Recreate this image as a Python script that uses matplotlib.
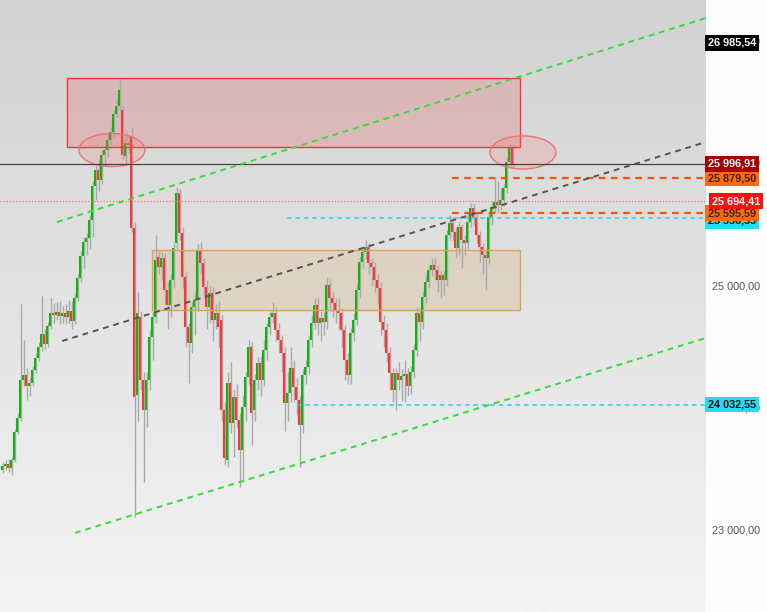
import numpy as np
import matplotlib
matplotlib.use('Agg')
import matplotlib.pyplot as plt
from matplotlib.patches import Rectangle, Ellipse
import matplotlib.transforms as mtransforms

# candles (price)
opens = [23500, 23530, 23545, 23515, 23580, 23810, 23925, 24235, 24275, 24185,
         24210, 24315, 24415, 24500, 24610, 24525, 24675, 24780, 24765, 24790,
         24755, 24780, 24745, 24795, 24715, 24905, 25065, 25245, 25360, 25390,
         25540, 25815, 25950, 25865, 26070, 26110, 26195, 26260, 26405, 26470,
         26440, 26060, 26170, 26215, 25475, 24110, 24750, 24235, 23990, 24235,
         24585, 24745, 25240, 25155, 25230, 24970, 24845, 25050, 25350, 25760,
         25435, 25075, 24665, 24535, 24830, 24885, 25295, 25190, 24990, 24830,
         24945, 24725, 24780, 24720, 23990, 23580, 24210, 23880, 24095, 23905,
         23660, 24010, 24255, 24500, 23990, 24235, 24370, 24235, 24480, 24665,
         24745, 24780, 24640, 24560, 24455, 24045, 24125, 24330, 24175, 24070,
         23865, 24275, 24340, 24560, 24700, 24845, 24700, 24740, 24705, 25010,
         24905, 24860, 24805, 24780, 24640, 24395, 24275, 24615, 24725, 24970,
         25195, 25280, 25320, 25190, 25155, 25050, 24985, 24705, 24640, 24455,
         24290, 24150, 24290, 24235, 24265, 24280, 24185, 24300, 24480, 24780,
         24705, 24910, 25035, 25130, 25170, 25130, 25050, 25090, 25050, 25420,
         25515, 25440, 25310, 25480, 25375, 25350, 25525, 25635, 25565, 25415,
         25320, 25255, 25230, 25565, 25645, 25685, 25660, 25700, 25800, 26015,
         26130]
highs = [23560, 23580, 23590, 23600, 23830, 23960, 24850, 24560, 24330, 24250,
         24350, 24450, 24540, 24920, 24650, 24710, 24900, 24860, 24870, 24880,
         24840, 24850, 24890, 24880, 24940, 25100, 25290, 25400, 25430, 25580,
         25860, 25990, 26030, 26110, 26150, 26240, 26300, 26440, 26520, 26700,
         26470, 26260, 26230, 26290, 25520, 24950, 24800, 24300, 24300, 24640,
         24800, 25415, 25290, 25280, 25270, 25030, 25100, 25350, 25810, 25790,
         25480, 25120, 24700, 24870, 24950, 25340, 25360, 25230, 25050, 25000,
         24990, 24850, 24880, 24760, 24050, 24300, 24380, 24150, 24200, 23960,
         24100, 24300, 24560, 24540, 24280, 24420, 24430, 24560, 24700, 24800,
         24870, 24830, 24700, 24600, 24500, 24300, 24500, 24400, 24250, 24100,
         24320, 24400, 24600, 24760, 24900, 24900, 24800, 24790, 25075, 25060,
         24960, 24900, 24900, 24820, 24680, 24450, 24660, 24780, 25020, 25240,
         25330, 25380, 25350, 25230, 25200, 25100, 25030, 24760, 24700, 24500,
         24330, 24330, 24380, 24320, 24400, 24330, 24350, 24530, 24830, 24820,
         24950, 25090, 25170, 25230, 25230, 25170, 25120, 25120, 25460, 25580,
         25560, 25480, 25520, 25510, 25420, 25600, 25680, 25670, 25600, 25450,
         25350, 25300, 25600, 25690, 25880, 25860, 25800, 25830, 26050, 26160,
         26160]
lows = [23470, 23500, 23480, 23455, 23560, 23790, 23900, 24180, 24070, 24100,
        24180, 24290, 24390, 24470, 24480, 24500, 24650, 24700, 24720, 24690,
        24700, 24690, 24700, 24650, 24690, 24880, 25030, 25150, 25250, 25300,
        25400, 25700, 25780, 25830, 25980, 26050, 26150, 26220, 26380, 26440,
        26040, 25990, 26090, 25440, 23115, 23900, 24150, 23400, 23850, 24150,
        24400, 24700, 25100, 25050, 24850, 24650, 24750, 24980, 25300, 25380,
        24980, 24500, 24210, 24450, 24600, 24800, 25100, 24900, 24650, 24700,
        24550, 24650, 24500, 23900, 23540, 23520, 23800, 23600, 23850, 23360,
        23400, 23900, 24200, 23700, 23900, 24150, 24100, 24180, 24400, 24600,
        24700, 24550, 24450, 24300, 23820, 23900, 24050, 24050, 23950, 23525,
        23800, 24200, 24280, 24500, 24650, 24600, 24550, 24600, 24650, 24800,
        24750, 24700, 24650, 24500, 24233, 24200, 24200, 24550, 24680, 24900,
        25150, 25220, 25100, 25000, 24950, 24850, 24600, 24500, 24380, 24150,
        24050, 23990, 24150, 24060, 24050, 24100, 24120, 24250, 24430, 24550,
        24650, 24850, 24980, 25080, 25050, 24950, 24900, 24930, 25000, 25380,
        25380, 25230, 25250, 25150, 25250, 25300, 25480, 25500, 25350, 25200,
        25100, 24970, 25180, 25500, 25600, 25600, 25620, 25650, 25760, 25980,
        25970]
closes = [23530, 23545, 23515, 23580, 23810, 23925, 24235, 24275, 24185, 24210,
          24315, 24415, 24500, 24610, 24525, 24675, 24780, 24765, 24790, 24755,
          24780, 24745, 24795, 24715, 24905, 25065, 25245, 25360, 25390, 25540,
          25815, 25950, 25865, 26070, 26110, 26195, 26260, 26405, 26470, 26600,
          26070, 26170, 26150, 25475, 24095, 24780, 24235, 23990, 24235, 24585,
          24745, 25215, 25155, 25230, 24970, 24845, 25050, 25310, 25760, 25435,
          25075, 24665, 24535, 24830, 24885, 25295, 25190, 24990, 24830, 24945,
          24725, 24780, 24665, 23990, 23595, 24210, 23880, 24095, 23905, 23660,
          24010, 24255, 24500, 23965, 24235, 24370, 24235, 24480, 24665, 24745,
          24780, 24640, 24560, 24455, 24045, 24125, 24330, 24175, 24070, 23865,
          24275, 24340, 24560, 24700, 24845, 24700, 24740, 24705, 25010, 24905,
          24860, 24805, 24780, 24640, 24395, 24275, 24615, 24725, 24970, 25195,
          25280, 25320, 25190, 25155, 25050, 24985, 24705, 24640, 24455, 24290,
          24150, 24290, 24235, 24265, 24280, 24185, 24300, 24480, 24780, 24705,
          24910, 25035, 25130, 25170, 25130, 25050, 25090, 25050, 25420, 25515,
          25440, 25310, 25480, 25375, 25350, 25525, 25635, 25565, 25415, 25320,
          25255, 25230, 25565, 25645, 25685, 25660, 25700, 25800, 26015, 26130,
          25996.91]

# levels
last_price = 25996.91
red_level = 25694.41
orange_levels = [25879.50, 25595.59]
cyan_levels = [25556.55, 24032.55]
ticks = [23000, 24000, 25000, 26000, 27000]

# trend lines (bar index, price)
upper_channel = ([18.5, 234.8], [25523, 27189])
lower_channel = ([24.5, 234.8], [22984, 24576])
mid_line = ([20.2, 234.8], [24551, 26176])

W, H = 767, 612
fig = plt.figure(figsize=(W / 100, H / 100), dpi=100)
fig.patch.set_facecolor('#fdfdfd')
ax = fig.add_axes([0, 0, 706 / W, 1])
ymin, ymax = 22338, 27336
xmin, xmax = -0.5, 234.83
ax.set_xlim(xmin, xmax)
ax.set_ylim(ymin, ymax)
ax.axis('off')

# background gradient
grad = np.linspace(0, 1, 256).reshape(-1, 1)
cmap = matplotlib.colors.LinearSegmentedColormap.from_list('bg', ['#f4f4f4', '#d2d2d2'])
ax.imshow(grad, extent=[xmin, xmax, ymin, ymax], origin='lower', aspect='auto', cmap=cmap, zorder=0)

idx = np.arange(len(closes))
o = np.array(opens); c = np.array(closes); hi = np.array(highs); lo = np.array(lows)
ax.vlines(idx + 0.4, lo, hi, color='#a9a9a9', linewidth=1.0, zorder=3)
up = c >= o
ax.vlines(idx[up], o[up], c[up], color='#0cb80c', linewidth=1.5, zorder=4)
ax.vlines(idx[~up], o[~up], c[~up], color='#ff3636', linewidth=1.5, zorder=4)

# zones
ax.add_patch(Rectangle((21.8, 26136), 151.0, 26699 - 26136, facecolor='#e08080', alpha=0.35,
                       edgecolor='none', zorder=2))
ax.add_patch(Rectangle((21.8, 26136), 151.0, 26699 - 26136, facecolor='none',
                       edgecolor='#ff3030', linewidth=1, zorder=5))
ax.add_patch(Rectangle((50.1, 24805), 122.7, 25295 - 24805, facecolor='#d8b98a', alpha=0.35,
                       edgecolor='none', zorder=2))
ax.add_patch(Rectangle((50.1, 24805), 122.7, 25295 - 24805, facecolor='none',
                       edgecolor='#e0a050', linewidth=1, zorder=5))
for cx, cy in [(36.8, 26111), (173.8, 26091)]:
    ax.add_patch(Ellipse((cx, cy), 22, 270, facecolor='#ff6060', alpha=0.17, edgecolor='none', zorder=5))
    ax.add_patch(Ellipse((cx, cy), 22, 270, facecolor='none', edgecolor='#f07070', linewidth=1, zorder=5))

# horizontal levels
ax.axhline(last_price, color='#444444', linewidth=0.9, zorder=6)
ax.axhline(red_level, color='#ff7070', linewidth=0.9, linestyle=(0, (1, 1.5)), zorder=6)
for lv in orange_levels:
    ax.plot([150, xmax], [lv, lv], color='#ff5000', linewidth=1.6, linestyle=(0, (3, 2.5)), zorder=6)
ax.plot([95, xmax], [cyan_levels[0]] * 2, color='#33ccee', linewidth=1.1, linestyle=(0, (3, 2.5)), zorder=6)
ax.plot([98.5, xmax], [cyan_levels[1]] * 2, color='#33ccee', linewidth=1.1, linestyle=(0, (3, 2.5)), zorder=6)

# trend lines
for xs, ys in [upper_channel, lower_channel]:
    ax.plot(xs, ys, color='#33dd33', linewidth=1.4, linestyle=(0, (3, 2.5)), zorder=6)
ax.plot(mid_line[0], mid_line[1], color='#555555', linewidth=1.4, linestyle=(0, (3, 2.5)), zorder=6)

# right axis labels
trans = mtransforms.blended_transform_factory(ax.transAxes, ax.transData)
def fmt(v):
    s = f"{v:,.2f}"
    return s.replace(',', ' ').replace('.', ',')

for t in ticks:
    ax.text(1.009, t, fmt(t), transform=trans, fontsize=7.8, family='Liberation Sans',
            color='#555555', va='center', ha='left', clip_on=False, zorder=1)

def tag(v, bg, fg, dy=0, x=1.003):
    ax.text(x, v + dy, fmt(v), transform=trans, fontsize=7.8, family='Liberation Sans',
            fontweight='bold', color=fg, va='center', ha='left', clip_on=False, zorder=20,
            bbox=dict(boxstyle='square,pad=0.25', facecolor=bg, edgecolor='none'))

tag(26985.54, '#000000', '#ffffff')
tag(cyan_levels[0], '#22ddf5', '#111111', dy=-25)
tag(cyan_levels[1], '#22ddf5', '#111111')
tag(orange_levels[1], '#ff6a10', '#402000')
tag(red_level, '#ff1010', '#ffffff', x=1.008)
tag(orange_levels[0], '#ff6a10', '#402000')
tag(last_price, '#a80000', '#ffffff')

fig.savefig('out.png', dpi=100)
